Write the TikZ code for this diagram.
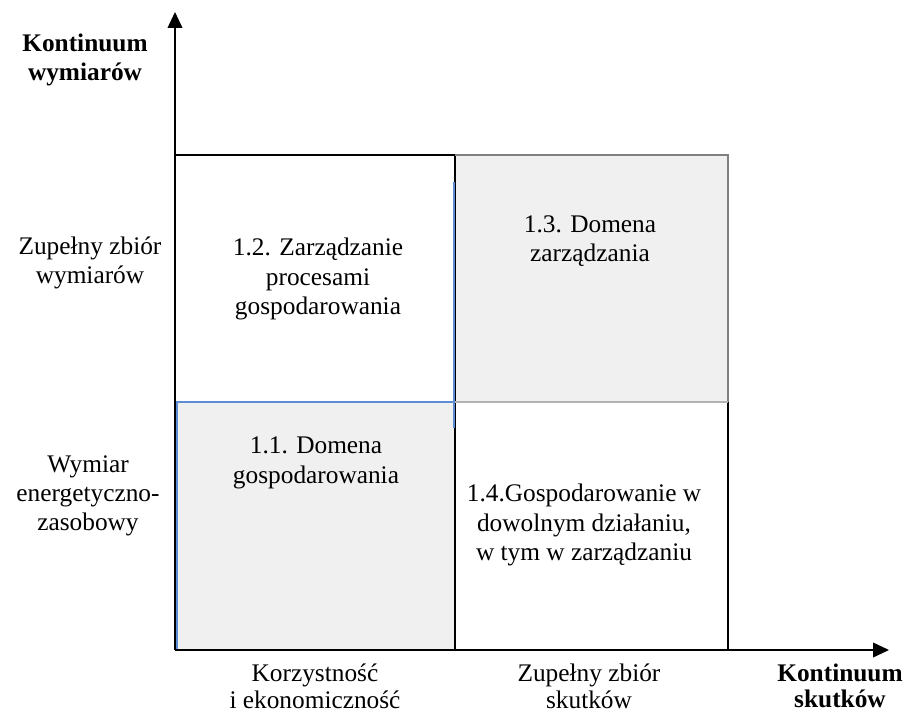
\documentclass[tikz,border=0pt]{standalone}
\usepackage{fontspec}
\setmainfont{Liberation Serif}
\usetikzlibrary{arrows.meta}

\definecolor{cellgray}{HTML}{F0F0F0}
\definecolor{cellblue}{HTML}{5C8CD2}

\begin{document}
\begin{tikzpicture}[
  x=0.75pt, y=-0.75pt,
  >={Triangle[length=12pt,width=11pt]},
  lab/.style={font=\fontsize{19}{22}\selectfont, align=center, inner sep=0pt},
  axislab/.style={lab, font=\fontsize{19}{22}\selectfont\bfseries},
  bottomlab/.style={lab, font=\fontsize{19}{20}\selectfont},
  axis/.style={->, line width=1.3pt},
  frame/.style={line width=1pt, black}
]
  \useasboundingbox (0,0) rectangle (904,713);

  % Corner points of the grid
  \coordinate (O)  at (175,650);
  \coordinate (TL) at (175,155);
  \coordinate (TM) at (455,155);
  \coordinate (TR) at (728,155);
  \coordinate (ML) at (175,402);
  \coordinate (MM) at (455,402);
  \coordinate (MR) at (728,402);
  \coordinate (BM) at (455,650);
  \coordinate (BR) at (728,650);
  \coordinate (Yend) at (175,12);
  \coordinate (Xend) at (889,650);

  % Shaded cells
  \fill[cellgray] (TM) rectangle (MR);
  \fill[cellgray] (ML) rectangle (BM);

  % Cell borders
  \draw[frame] (ML) -- (TL) -- (TM) -- (BM);
  \draw[frame] (MR) -- (BR);
  \draw[line width=1pt, gray] (TM) -- (TR) -- (MR);
  \draw[line width=0.8pt, gray!60] (MM) -- (MR);
  \draw[frame] (ML) -- (MM);

  % Blue edges of cell 1.1
  \draw[line width=1.2pt, cellblue] ([xshift=1.5]O) -- ([xshift=1.5]ML) -- ([xshift=-1]MM);
  \draw[line width=1.2pt, cellblue] (454,182) -- (454,428);

  % Axes
  \draw[axis] (O) -- (Yend);
  \draw[axis] (O) -- (Xend);

  % Axis titles
  \node[axislab] (ytitle) at (85,60)  {Kontinuum\\wymiarów};
  \node[axislab, font=\fontsize{19}{20}\selectfont\bfseries] (xtitle) at (840,686) {Kontinuum\\skutków};

  % Row labels
  \node[lab] (rowtop) at (90,263) {Zupełny zbiór\\wymiarów};
  \node[lab] (rowbot) at (88,496) {Wymiar\\energetyczno-\\zasobowy};

  % Column labels
  \node[bottomlab] (colleft)  at (315,686) {Korzystność\\i ekonomiczność};
  \node[bottomlab] (colright) at (589,686) {Zupełny zbiór\\skutków};

  % Cell texts
  \node[lab] (c12) at (318,279) {1.2. Zarządzanie\\procesami\\gospodarowania};
  \node[lab] (c13) at (590,241) {1.3. Domena\\zarządzania};
  \node[lab] (c11) at (316,463) {1.1. Domena\\gospodarowania};
  \node[lab] (c14) at (584,525) {1.4.Gospodarowanie w\\dowolnym działaniu,\\w tym w zarządzaniu};

\end{tikzpicture}
\end{document}
